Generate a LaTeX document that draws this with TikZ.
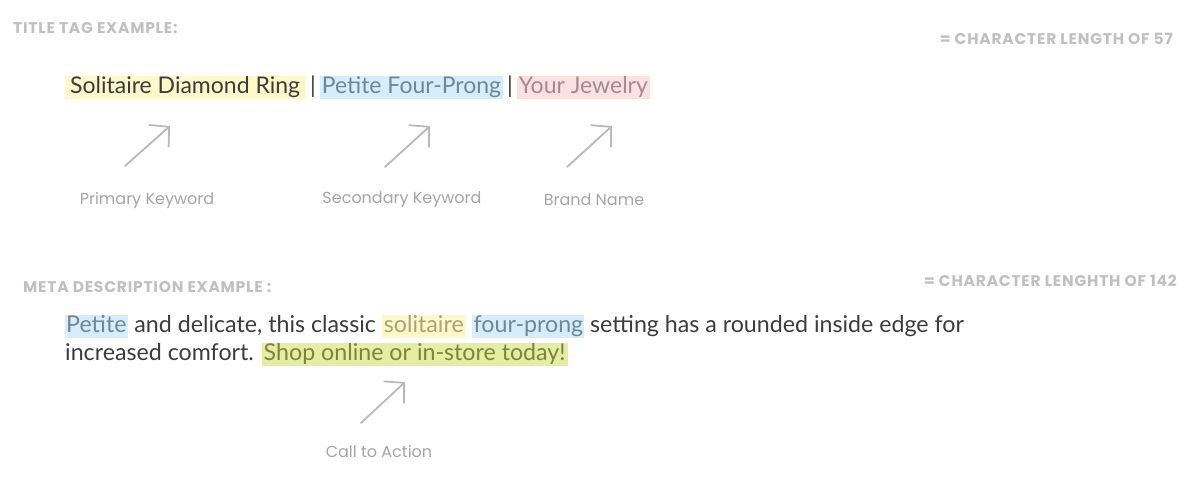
\documentclass[tikz,border=0pt]{standalone}
\usepackage{fontspec}
\usepackage{xcolor}
\setmainfont{Lato}
\newfontfamily\tagfont{Poppins}
\newfontfamily\headfont[LetterSpace=5]{Poppins}
\usetikzlibrary{arrows.meta,positioning}
\definecolor{hlyellow}{RGB}{255,248,200}
\definecolor{hlblue}{RGB}{214,238,251}
\definecolor{hlpink}{RGB}{253,224,228}
\definecolor{hlgreen}{RGB}{228,238,160}
\definecolor{txtdark}{RGB}{60,60,60}
\definecolor{txtblue}{RGB}{112,136,150}
\definecolor{txtpink}{RGB}{160,140,145}
\definecolor{txtolive}{RGB}{170,162,125}
\definecolor{txtgreen}{RGB}{125,130,65}
\definecolor{tagwhite}{RGB}{192,192,192}
\definecolor{labelgray}{RGB}{165,165,165}
\definecolor{arrowgray}{RGB}{185,185,185}

% highlighted run of text: {left pad} {bg} {fg} {text} {right pad}
\newcommand{\hlrun}[5]{{\setlength{\fboxsep}{0pt}\colorbox{#2}{\rule[-6pt]{0pt}{23.5pt}\hspace{#1}\textcolor{#3}{#4}\hspace{#5}}}}

\begin{document}
\begin{tikzpicture}[x=1pt,y=-1pt,
    heading/.style={font=\headfont\bfseries\fontsize{15.5}{18}\selectfont, text=tagwhite, inner sep=0pt},
    keylabel/.style={font=\tagfont\fontsize{16}{19}\selectfont, text=labelgray, inner sep=0pt},
    pointer/.style={draw=arrowgray, line width=1.8pt, line cap=round, line join=round,
      -{Straight Barb[length=14pt, width=30pt, line width=1.8pt]}}]
    \useasboundingbox (0,0) rectangle (1189,477);

    % title tag
    \node[heading, anchor=base west] (titlehead) at (13,33) {TITLE TAG EXAMPLE:};
    \node[heading, anchor=base east] (titlelen) at (1173,44) {= CHARACTER LENGTH OF 57};
    \node[anchor=base west, inner sep=0pt, font=\fontsize{23}{28}\selectfont] (titletag) at (65,93)
      {\hlrun{5pt}{hlyellow}{txtdark}{Solitaire Diamond Ring}{6pt}\kern4pt\textcolor{txtdark}{|}\kern4pt\hlrun{2pt}{hlblue}{txtblue}{Petite Four-Prong}{2pt}\kern4pt\textcolor{txtdark}{|}\kern4pt\hlrun{2pt}{hlpink}{txtpink}{Your Jewelry}{2pt}};

    \node[keylabel] (primary) at (147,200) {Primary Keyword};
    \node[keylabel] (secondary) at (402,200) {Secondary Keyword};
    \node[keylabel] (brand) at (594,200) {Brand Name};

    \coordinate (primtail) at (125,166);
    \coordinate (primtip) at (170,126);
    \coordinate (sectail) at (385,167);
    \coordinate (sectip) at (430,126);
    \coordinate (brandtail) at (567,167);
    \coordinate (brandtip) at (612,126);
    \draw[pointer] (primtail) -- (primtip);
    \draw[pointer] (sectail) -- (sectip);
    \draw[pointer] (brandtail) -- (brandtip);

    % meta description
    \node[heading, anchor=base west] (metahead) at (23,292) {META DESCRIPTION EXAMPLE :};
    \node[heading, anchor=base east] (metalen) at (1177,286) {= CHARACTER LENGHTH OF 142};
    \node[anchor=base west, inner sep=0pt, align=left, text=txtdark, font=\fontsize{23.2}{28}\selectfont] (metadesc) at (65,360)
      {\hlrun{1pt}{hlblue}{txtblue}{Petite}{2pt} and delicate, this classic \hlrun{2pt}{hlyellow}{txtolive}{solitaire}{2pt} \hlrun{2pt}{hlblue}{txtblue}{four-prong}{1pt} setting has a rounded inside edge for\\
       increased comfort. \hlrun{2pt}{hlgreen}{txtgreen}{Shop online or in-store today!}{2pt}};

    \node[keylabel] (cta) at (379,451) {Call to Action};
    \coordinate (ctatail) at (361,423);
    \coordinate (ctatip) at (405,382);
    \draw[pointer] (ctatail) -- (ctatip);
\end{tikzpicture}
\end{document}
